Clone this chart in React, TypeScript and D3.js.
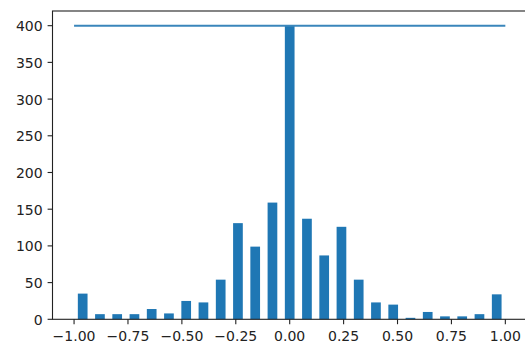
import React from "react";
import * as d3 from "d3";

const binCenters = [-0.96, -0.88, -0.8, -0.72, -0.64, -0.56, -0.48, -0.4, -0.32, -0.24, -0.16, -0.08, 0.0, 0.08, 0.16, 0.24, 0.32, 0.4, 0.48, 0.56, 0.64, 0.72, 0.8, 0.88, 0.96];
const counts = [35, 7, 7, 7, 14, 8, 25, 23, 54, 131, 99, 159, 400, 137, 87, 126, 54, 23, 20, 2, 10, 4, 4, 7, 34];
const lineX = [-1, 1];
const lineY = [400, 400];
const xTicks = [-1, -0.75, -0.5, -0.25, 0, 0.25, 0.5, 0.75, 1];
const yTicks = [0, 50, 100, 150, 200, 250, 300, 350, 400];

const W = 525;
const H = 342;
const barWidth = 0.045;

export default function App() {
  const x = d3.scaleLinear().domain([-1.1, 1.1]).range([52.5, 526.9]);
  const y = d3.scaleLinear().domain([0, 420]).range([319.3, 11]);
  const fmt = (v: number) => d3.format(".2f")(v).replace("-", "\u2212");
  const line = d3
    .line<number>()
    .x((_, i) => x(lineX[i]))
    .y((_, i) => y(lineY[i]));
  const tickLen = 4.9;
  const pad = 4.9;
  const font = "DejaVu Sans";
  const textColor = "#222";
  return (
    <svg
      width={W}
      height={H}
      style={{ position: "absolute", left: 0, top: 0, background: "#fff" }}
      fontFamily={font}
    >
      <rect x={0} y={0} width={W} height={H} fill="#fff" />
      {counts.map((c, i) => (
        <rect
          key={i}
          x={x(binCenters[i] - barWidth / 2)}
          width={x(barWidth) - x(0)}
          y={y(c)}
          height={y(0) - y(c)}
          fill="#1f77b4"
        />
      ))}
      <path d={line(lineX) || ""} fill="none" stroke="#3a86bb" strokeWidth={2.1} />
      {/* spines */}
      <rect
        x={x(-1.1)}
        y={y(420)}
        width={x(1.1) - x(-1.1)}
        height={y(0) - y(420)}
        fill="none"
        stroke="#222"
        strokeWidth={1.1}
      />
      {yTicks.map((t) => (
        <g key={"y" + t}>
          <line x1={x(-1.1) - tickLen} x2={x(-1.1)} y1={y(t)} y2={y(t)} stroke="#222" strokeWidth={1.1} />
          <text x={x(-1.1) - tickLen - pad} y={y(t) + 5.5} textAnchor="end" fontSize={14} fill={textColor}>
            {t}
          </text>
        </g>
      ))}
      {xTicks.map((t) => (
        <g key={"x" + t}>
          <line x1={x(t)} x2={x(t)} y1={y(0)} y2={y(0) + tickLen} stroke="#222" strokeWidth={1.1} />
          <text x={x(t)} y={340.5} textAnchor="middle" fontSize={14} fill={textColor}>
            {fmt(t)}
          </text>
        </g>
      ))}
    </svg>
  );
}
